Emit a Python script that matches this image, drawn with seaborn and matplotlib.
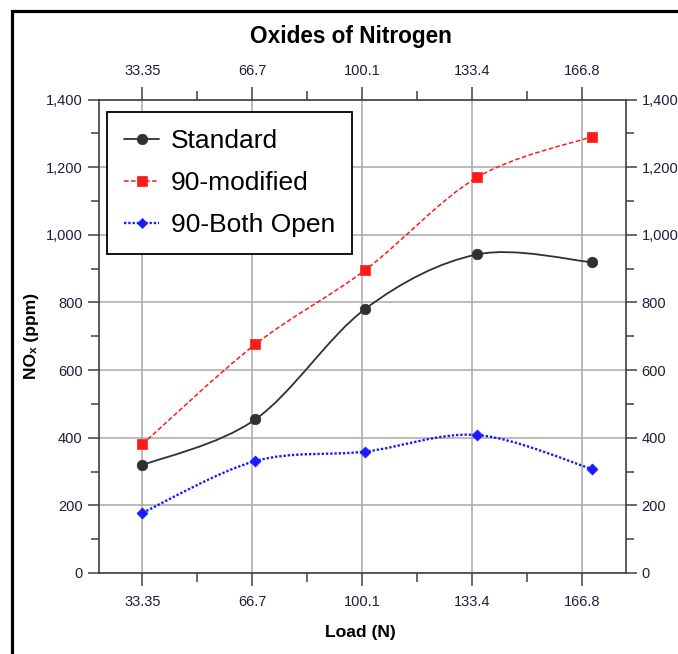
import matplotlib
matplotlib.use("Agg")
import matplotlib.pyplot as plt
import seaborn as sns
import pandas as pd
from matplotlib.path import Path
from matplotlib.patches import PathPatch, Rectangle
from matplotlib.lines import Line2D
from matplotlib.ticker import FixedLocator, FuncFormatter, MultipleLocator

# ---------------- data ----------------
load_values = [33.35, 67.6, 101.0, 135.0, 169.7]
tick_values = [33.35, 66.7, 100.1, 133.4, 166.8]
tick_labels = ["33.35", "66.7", "100.1", "133.4", "166.8"]
standard = [319, 454, 781, 942, 919]
modified_90 = [381, 676, 896, 1170, 1290]
both_open_90 = [178, 331, 359, 408, 308]
series_names = ["Standard", "90-modified", "90-Both Open"]

# ---------------- style ----------------
sns.set_style("white")
FAM = ["Liberation Sans", "DejaVu Sans"]
plt.rcParams["font.family"] = FAM
TICK_COLOR = "#1e1e3c"

styles = {
    "Standard": dict(color="#303030", ls="-", lw=1.3, marker="o", ms=7.6),
    "90-modified": dict(color="#ff1a1a", ls=(0, (3.0, 1.6)), lw=1.1, marker="s", ms=7.4),
    "90-Both Open": dict(color="#1a1aff", ls=(0, (1.0, 0.8)), lw=1.7, marker="D", ms=5.6),
}

df = pd.DataFrame({
    "load": load_values * 3,
    "nox": standard + modified_90 + both_open_90,
    "series": [s for s in series_names for _ in load_values],
})

fig = plt.figure(figsize=(6.78, 6.54), dpi=100)
W, H = 678, 654
ax = fig.add_axes([98.5 / W, 1 - 573 / H, 527 / W, 473.5 / H])


def cardinal_path(xs, ys, tension=0.5):
    pts = list(zip(xs, ys))
    n = len(pts)
    verts = [pts[0]]
    codes = [Path.MOVETO]
    k = tension / 3.0
    for i in range(n - 1):
        p0 = pts[i - 1] if i > 0 else pts[i]
        p1 = pts[i]
        p2 = pts[i + 1]
        p3 = pts[i + 2] if i + 2 < n else pts[i + 1]
        c1 = (p1[0] + k * (p2[0] - p0[0]), p1[1] + k * (p2[1] - p0[1]))
        c2 = (p2[0] - k * (p3[0] - p1[0]), p2[1] - k * (p3[1] - p1[1]))
        verts += [c1, c2, p2]
        codes += [Path.CURVE4] * 3
    return Path(verts, codes)


for name in series_names:
    st = styles[name]
    sub = df[df["series"] == name]
    patch = PathPatch(cardinal_path(sub["load"].tolist(), sub["nox"].tolist()),
                      facecolor="none", edgecolor=st["color"], lw=st["lw"],
                      linestyle=st["ls"], zorder=3)
    ax.add_patch(patch)
    sns.scatterplot(data=sub, x="load", y="nox", marker=st["marker"],
                    s=st["ms"] ** 2, color=st["color"], edgecolor=st["color"],
                    linewidth=0.5, ax=ax, zorder=4, legend=False)

# ---------------- axes ----------------
ax.set_xlim(20, 180)
ax.set_ylim(0, 1400)
ax.xaxis.set_major_locator(FixedLocator(tick_values))
ax.set_xticklabels(tick_labels)
minor_x = [(a + b) / 2 for a, b in zip(tick_values[:-1], tick_values[1:])]
ax.xaxis.set_minor_locator(FixedLocator(minor_x))
ax.yaxis.set_major_locator(MultipleLocator(200))
ax.yaxis.set_minor_locator(MultipleLocator(100))
ax.yaxis.set_major_formatter(FuncFormatter(lambda v, p: f"{v:,.0f}"))

ax.tick_params(axis="both", which="both", direction="out", color="#404040",
               width=1.1, labelcolor=TICK_COLOR, labelsize=10.5)
ax.tick_params(axis="x", which="both", top=True, bottom=True, labeltop=True,
               labelbottom=True)
ax.tick_params(axis="y", which="both", left=True, right=True, labelleft=True,
               labelright=True)
ax.tick_params(axis="x", which="major", length=9.5, pad=6)
ax.tick_params(axis="x", which="minor", length=6.5)
ax.tick_params(axis="y", which="major", length=8, pad=3.5)
ax.tick_params(axis="y", which="minor", length=5.5)

for sp in ax.spines.values():
    sp.set_color("#404040")
    sp.set_linewidth(1.2)

ax.grid(True, which="major", color="#a8a8a8", lw=1.1)
ax.set_axisbelow(True)

ax.set_xlabel("Load (N)", fontsize=12.6, fontweight="bold", color="black", va="center")
ax.xaxis.set_label_coords((360 - 98.5) / 527, (573 - 633) / 473.5)
ax.set_ylabel("NOₓ (ppm)", fontsize=12.6, fontweight="bold", color="black", va="center")
ax.yaxis.set_label_coords((31.5 - 98.5) / 527, 0.5)

fig.suptitle("Oxides of Nitrogen", x=351 / W, y=1 - 37 / H, va="center",
             fontsize=16.3, fontweight="bold", color="black")

# ---------------- legend ----------------
handles = [Line2D([], [], color=styles[n]["color"], ls=styles[n]["ls"],
                  lw=styles[n]["lw"], marker=styles[n]["marker"],
                  markersize=styles[n]["ms"], markeredgewidth=0.5)
           for n in series_names]
leg = ax.legend(handles, series_names, loc="upper left",
                bbox_to_anchor=(107.3 / W, 1 - 111.7 / H),
                bbox_transform=fig.transFigure, borderaxespad=0,
                frameon=True, fancybox=False, shadow=False, framealpha=1,
                edgecolor="black", facecolor="white", fontsize=19,
                handlelength=1.3, handletextpad=0.45, labelspacing=0.68,
                borderpad=0.65)
leg.get_frame().set_linewidth(1.3)
for t in leg.get_texts():
    t.set_color("black")

# outer frame
fig.patches.append(Rectangle((12 / W, -0.2), 1.2, 1.2 - 11.5 / H,
                             transform=fig.transFigure, fill=False,
                             edgecolor="black", lw=2.3, zorder=10))

fig.savefig("out.png", dpi=100)
